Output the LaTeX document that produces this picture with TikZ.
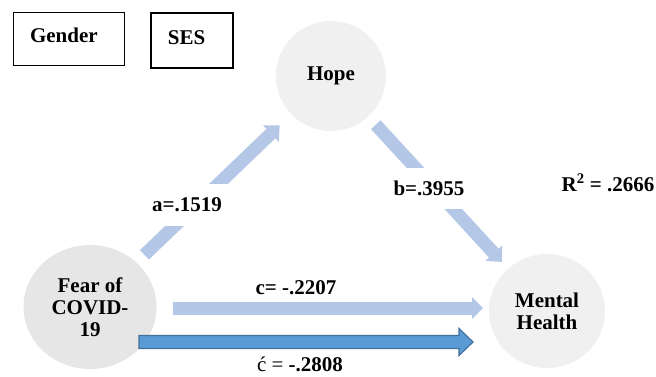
\documentclass[tikz,border=0pt]{standalone}
\usepackage{fontspec}
\setmainfont{Liberation Serif}
\usepackage{tikz}
\usetikzlibrary{positioning,arrows.meta,calc,shapes.geometric}
\definecolor{pale}{RGB}{180,199,231}
\definecolor{deep}{RGB}{91,155,213}
\definecolor{deepline}{RGB}{65,113,156}
\definecolor{fogA}{RGB}{230,230,230}
\definecolor{fogB}{RGB}{240,240,240}
\newcommand{\bigbf}{\bfseries\fontsize{21}{22}\selectfont}

\begin{document}
\begin{tikzpicture}[x=1pt,y=-1pt,
  var/.style={ellipse,inner sep=0pt,font=\bigbf,align=center},
  ctrl/.style={draw,rectangle,font=\bigbf,text height=14pt,text depth=7pt,
    inner xsep=17pt,align=left},
  coef/.style={fill=white,font=\bigbf,inner xsep=5pt},
  pathway/.style={pale,line width=13pt,-{Triangle[length=12pt,width=23pt,line width=0pt]}}]
\useasboundingbox (0,0) rectangle (656,376);
% covariates
\node[ctrl,minimum height=53pt,text width=77pt] (gender) at (68.5,38.5) {Gender};
\node[ctrl,line width=1.4pt,minimum height=55pt,text width=48pt,
  right=26pt of gender,yshift=-2pt] (ses) {SES};
% variables
\node[var,fill=fogB,minimum width=110pt,minimum height=110pt] (hope) at (331,76) {Hope};
\node[var,fill=fogA,minimum width=133pt,minimum height=124pt] (fear) at (90,307) {Fear of\\COVID-\\19};
\node[var,fill=fogB,minimum width=116pt,minimum height=114pt] (mental) at (547,311) {Mental\\Health};
% indirect path
\draw[pathway,shorten <=11pt,shorten >=16pt] (fear) -- (hope);
\draw[pathway,shorten <=11pt,shorten >=9pt] (hope) -- (mental);
\node[coef,minimum height=42pt] (la) at (187,205) {a=.1519};
\node[coef,minimum height=41pt] (lb) at (429,188) {b=.3955};
% total and direct path
\coordinate (cfrom) at (173,308);
\coordinate (cto) at (483,308);
\draw[pathway,-{Triangle[length=11pt,width=22pt,line width=0pt]}] (cfrom) -- (cto);
\coordinate (dfrom) at (139,342);
\coordinate (dto) at (473,342);
\filldraw[fill=deep,draw=deepline,line width=1.2pt] ($(dfrom)+(0,-6.5)$) -- ($(dto)+(-14,-6.5)$)
  -- ($(dto)+(-14,-13.5)$) -- (dto) -- ($(dto)+(-14,13.5)$) -- ($(dto)+(-14,6.5)$)
  -- ($(dfrom)+(0,6.5)$) -- cycle;
\node[font=\bigbf] (lc) at (296,288) {c= -.2207};
\node[font=\bigbf] (ld) at (300,364) {{\mdseries ć =} -.2808};
\node[font=\bigbf] (rsq) at (608,183) {R\textsuperscript{2} = .2666};
\end{tikzpicture}
\end{document}
